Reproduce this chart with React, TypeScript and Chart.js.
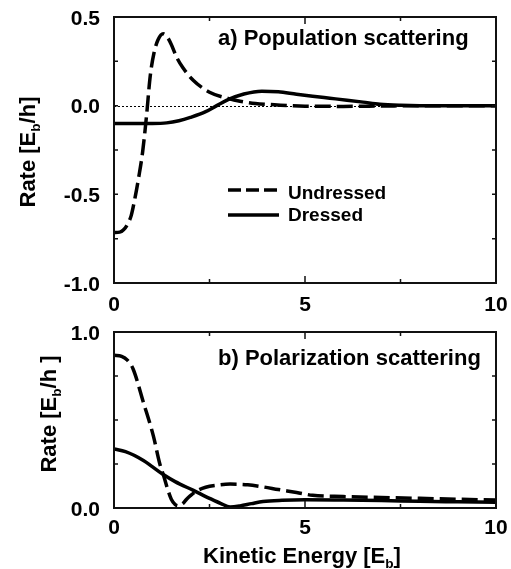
import React, { useEffect, useRef } from 'react';
import { Chart, registerables } from 'chart.js';

Chart.register(...registerables);

// ---------- data ----------
const topUndressedX = [0, 0.15, 0.25, 0.35, 0.45, 0.55, 0.65, 0.75, 0.85, 0.95, 1.05, 1.15, 1.29, 1.4, 1.5, 1.64, 1.8, 2.08, 2.5, 3.0, 3.3, 3.7, 4.2, 5.0, 6.0, 7.0, 8.0, 10];
const topUndressedY = [-0.715, -0.713, -0.7, -0.67, -0.62, -0.52, -0.4, -0.26, -0.06, 0.17, 0.3, 0.37, 0.405, 0.385, 0.345, 0.273, 0.215, 0.142, 0.076, 0.04, 0.025, 0.012, 0.005, -0.003, -0.004, -0.002, 0, 0];

const topDressedX = [0, 0.5, 1.0, 1.38, 1.7, 2.0, 2.4, 2.69, 3.0, 3.4, 3.87, 4.3, 4.78, 5.2, 5.65, 6.1, 6.52, 6.96, 7.5, 8, 9, 10];
const topDressedY = [-0.1, -0.1, -0.1, -0.097, -0.085, -0.066, -0.034, 0, 0.035, 0.066, 0.082, 0.078, 0.064, 0.053, 0.042, 0.031, 0.02, 0.008, 0.002, 0, 0, 0];

const botUndressedX = [0, 0.2, 0.35, 0.5, 0.77, 1.03, 1.2, 1.29, 1.4, 1.5, 1.6, 1.68, 1.8, 1.9, 2.0, 2.15, 2.4, 2.7, 3.04, 3.5, 3.9, 4.3, 4.78, 5.2, 6, 7, 8, 9, 10];
const botUndressedY = [0.868, 0.862, 0.84, 0.79, 0.6, 0.41, 0.25, 0.19, 0.11, 0.05, 0.02, 0.012, 0.025, 0.05, 0.07, 0.095, 0.118, 0.13, 0.136, 0.132, 0.12, 0.105, 0.088, 0.072, 0.065, 0.06, 0.055, 0.05, 0.045];

const botDressedX = [0, 0.3, 0.77, 1.0, 1.29, 1.6, 2.08, 2.5, 2.8, 3.04, 3.3, 3.6, 3.9, 4.4, 5.0, 6, 7, 8, 9, 10];
const botDressedY = [0.335, 0.32, 0.27, 0.235, 0.19, 0.15, 0.1, 0.055, 0.025, 0.006, 0.012, 0.025, 0.037, 0.044, 0.047, 0.045, 0.042, 0.038, 0.035, 0.032];

const xTickValues = [0, 5, 10];
const xTickLabels = ['0', '5', '10'];
const xMinorTicks = [2.5, 7.5];

const topYTickValues = [-1, -0.5, 0, 0.5];
const topYTickLabels = ['-1.0', '-0.5', '0.0', '0.5'];
const topYMinorTicks = [-0.75, -0.5, -0.25, 0, 0.25];

const botYTickValues = [0, 1];
const botYTickLabels = ['0.0', '1.0'];
const botYMinorTicks = [0.25, 0.5, 0.75];

const seriesNames = ['Undressed', 'Dressed'];
const topAnnotation = 'a) Population scattering';
const botAnnotation = 'b) Polarization scattering';

type Part = { t: string; sub?: boolean };
const topYTitle: Part[] = [{ t: 'Rate [E' }, { t: 'b', sub: true }, { t: '/h]' }];
const botYTitle: Part[] = [{ t: 'Rate [E' }, { t: 'b', sub: true }, { t: '/h ]' }];
const xTitle: Part[] = [{ t: 'Kinetic Energy [E' }, { t: 'b', sub: true }, { t: ']' }];

// ---------- helpers ----------
const FAMILY = '"Liberation Sans", Arial, Helvetica, sans-serif';
const font = (s: number) => `bold ${s}px ${FAMILY}`;

function pts(xs: number[], ys: number[]) {
  return xs.map((x, i) => ({ x, y: ys[i] }));
}

function richWidth(ctx: CanvasRenderingContext2D, parts: Part[], size: number) {
  let w = 0;
  for (const p of parts) {
    ctx.font = font(p.sub ? size * 0.62 : size);
    w += ctx.measureText(p.t).width;
  }
  return w;
}

function drawRich(ctx: CanvasRenderingContext2D, parts: Part[], x: number, y: number, size: number, center: boolean) {
  const w = richWidth(ctx, parts, size);
  let cx = center ? x - w / 2 : x;
  ctx.textAlign = 'left';
  ctx.textBaseline = 'alphabetic';
  for (const p of parts) {
    const s = p.sub ? size * 0.62 : size;
    ctx.font = font(s);
    ctx.fillText(p.t, cx, p.sub ? y + size * 0.22 : y);
    cx += ctx.measureText(p.t).width;
  }
}

type PanelCfg = {
  yTickValues: number[];
  yTickLabels: string[];
  yMinor: number[];
  yTitle: Part[];
  yTitleX: number;
  yTitleY: number;
  xLabelBaseline: number;
  annotation: string;
  annotationBaseline: number;
  zeroLine: boolean;
  legend: boolean;
  xTitle?: Part[];
  xTitleBaseline?: number;
};

function makeDecor(cfg: PanelCfg) {
  return {
    id: 'decor',
    beforeDatasetsDraw(chart: any) {
      const { ctx, chartArea: a, scales } = chart;
      if (cfg.zeroLine) {
        ctx.save();
        ctx.strokeStyle = '#000';
        ctx.lineWidth = 1;
        ctx.setLineDash([2, 2]);
        const y = Math.round(scales.y.getPixelForValue(0)) + 0.5;
        ctx.beginPath();
        ctx.moveTo(a.left, y);
        ctx.lineTo(a.right, y);
        ctx.stroke();
        ctx.restore();
      }
    },
    afterDatasetsDraw(chart: any) {
      const { ctx, chartArea: a, scales } = chart;
      const xs = scales.x;
      const ys = scales.y;
      ctx.save();
      ctx.fillStyle = '#000';
      ctx.strokeStyle = '#111';
      ctx.setLineDash([]);
      // frame
      ctx.lineWidth = 2;
      ctx.strokeRect(a.left, a.top, a.right - a.left, a.bottom - a.top);
      // ticks
      ctx.lineWidth = 1.5;
      ctx.beginPath();
      const xt = [...xTickValues, ...xMinorTicks];
      for (const v of xt) {
        if (v === xs.min || v === xs.max) continue;
        const len = xTickValues.includes(v) ? 7 : 4;
        const px = xs.getPixelForValue(v);
        ctx.moveTo(px, a.bottom);
        ctx.lineTo(px, a.bottom - len);
        ctx.moveTo(px, a.top);
        ctx.lineTo(px, a.top + len);
      }
      for (const v of cfg.yMinor) {
        const py = ys.getPixelForValue(v);
        ctx.moveTo(a.left, py);
        ctx.lineTo(a.left + 4, py);
        ctx.moveTo(a.right, py);
        ctx.lineTo(a.right - 4, py);
      }
      ctx.stroke();
      // y tick labels
      ctx.font = font(21);
      ctx.textAlign = 'right';
      ctx.textBaseline = 'alphabetic';
      cfg.yTickValues.forEach((v, i) => {
        const py = ys.getPixelForValue(v);
        ctx.fillText(cfg.yTickLabels[i], a.left - 14, py + 7.6);
      });
      // x tick labels
      ctx.textAlign = 'center';
      xTickValues.forEach((v, i) => {
        const px = xs.getPixelForValue(v);
        ctx.fillText(xTickLabels[i], px, cfg.xLabelBaseline);
      });
      // y title (rotated)
      ctx.save();
      ctx.translate(cfg.yTitleX, cfg.yTitleY);
      ctx.rotate(-Math.PI / 2);
      drawRich(ctx, cfg.yTitle, 0, 22 * 0.36, 22, true);
      ctx.restore();
      // x title
      if (cfg.xTitle && cfg.xTitleBaseline) {
        drawRich(ctx, cfg.xTitle, 302, cfg.xTitleBaseline, 22, true);
      }
      // annotation
      ctx.font = font(22);
      ctx.textAlign = 'left';
      ctx.fillText(cfg.annotation, 218, cfg.annotationBaseline);
      // legend
      if (cfg.legend) {
        ctx.lineWidth = 3.5;
        ctx.strokeStyle = '#000';
        ctx.setLineDash([13, 5]);
        ctx.beginPath();
        ctx.moveTo(228, 190);
        ctx.lineTo(277, 190);
        ctx.stroke();
        ctx.setLineDash([]);
        ctx.beginPath();
        ctx.moveTo(228, 215);
        ctx.lineTo(279, 215);
        ctx.stroke();
        ctx.font = font(19);
        ctx.fillText(seriesNames[0], 288, 198.5);
        ctx.fillText(seriesNames[1], 288, 220.5);
      }
      ctx.restore();
    },
  };
}

function makeConfig(
  undX: number[], undY: number[], drX: number[], drY: number[],
  yMin: number, yMax: number, padding: any, cfg: PanelCfg
): any {
  return {
    type: 'line',
    data: {
      datasets: [
        {
          label: seriesNames[1],
          data: pts(drX, drY),
          borderColor: '#000',
          borderWidth: 3.5,
          pointRadius: 0,
          fill: false,
          cubicInterpolationMode: 'monotone',
        },
        {
          label: seriesNames[0],
          data: pts(undX, undY),
          borderColor: '#000',
          borderWidth: 3.5,
          borderDash: [16, 6],
          pointRadius: 0,
          fill: false,
          cubicInterpolationMode: 'monotone',
        },
      ],
    },
    options: {
      animation: false,
      responsive: false,
      devicePixelRatio: 1,
      layout: { padding },
      plugins: { legend: { display: false }, tooltip: { enabled: false } },
      scales: {
        x: { type: 'linear', min: 0, max: 10, display: false },
        y: { type: 'linear', min: yMin, max: yMax, display: false },
      },
    },
    plugins: [makeDecor(cfg)],
  };
}

export default function App() {
  const topRef = useRef<HTMLCanvasElement>(null);
  const botRef = useRef<HTMLCanvasElement>(null);

  useEffect(() => {
    const c1 = new Chart(
      topRef.current as HTMLCanvasElement,
      makeConfig(
        topUndressedX, topUndressedY, topDressedX, topDressedY,
        -1, 0.5,
        { left: 114, right: 15, top: 17, bottom: 37 },
        {
          yTickValues: topYTickValues,
          yTickLabels: topYTickLabels,
          yMinor: topYMinorTicks,
          yTitle: topYTitle,
          yTitleX: 27,
          yTitleY: 152,
          xLabelBaseline: 311,
          annotation: topAnnotation,
          annotationBaseline: 45,
          zeroLine: true,
          legend: true,
        }
      )
    );
    const c2 = new Chart(
      botRef.current as HTMLCanvasElement,
      makeConfig(
        botUndressedX, botUndressedY, botDressedX, botDressedY,
        0, 1,
        { left: 114, right: 15, top: 12, bottom: 61 },
        {
          yTickValues: botYTickValues,
          yTickLabels: botYTickLabels,
          yMinor: botYMinorTicks,
          yTitle: botYTitle,
          yTitleX: 48,
          yTitleY: 94,
          xLabelBaseline: 214,
          annotation: botAnnotation,
          annotationBaseline: 45,
          zeroLine: false,
          legend: false,
          xTitle: xTitle,
          xTitleBaseline: 243,
        }
      )
    );
    return () => {
      c1.destroy();
      c2.destroy();
    };
  }, []);

  return (
    <div style={{ position: 'absolute', left: 0, top: 0, width: 511, height: 569, background: '#fff' }}>
      <canvas ref={topRef} width={511} height={320} style={{ position: 'absolute', left: 0, top: 0 }} />
      <canvas ref={botRef} width={511} height={249} style={{ position: 'absolute', left: 0, top: 320 }} />
    </div>
  );
}
